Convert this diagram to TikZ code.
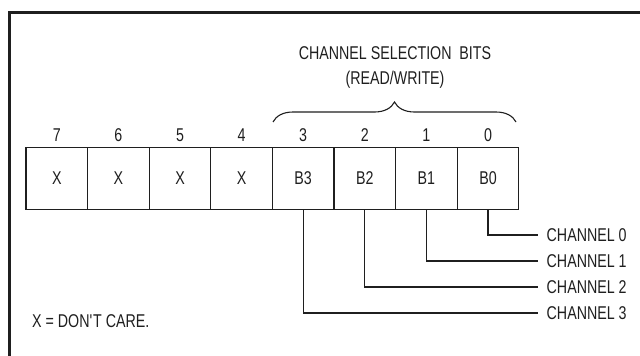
\documentclass[tikz,border=0pt]{standalone}
\usepackage{fontspec}
\setmainfont{Liberation Sans}[FakeStretch=0.77]
\usetikzlibrary{decorations.pathreplacing}

\tikzset{
  bitcell/.style={draw, line width=1.1pt, minimum width=61.6pt, minimum height=62pt, inner sep=0pt},
  tap/.style={line width=1.1pt},
  chlabel/.style={anchor=west, inner sep=0pt}
}

\begin{document}
\begin{tikzpicture}[x=1pt, y=-1pt, font=\fontsize{18.5}{22}\selectfont, color=black!88]
  \clip (0,0) rectangle (640,356);
  \fill[white] (0,0) rectangle (640,356);
  \draw[line width=2.6pt] (9.5,370) -- (9.5,12.5) -- (650,12.5);
  % register cells, bit 7 on the left
  \foreach \i in {7,6,5,4} {
    \node[bitcell] (c\i) at ({26+(7.5-\i)*61.6},178.3) {X};
    \node[above=5pt, inner sep=0pt] (n\i) at (c\i.north) {\i};
  }
  \foreach \i in {3,2,1,0} {
    \node[bitcell] (c\i) at ({26+(7.5-\i)*61.6},178.3) {B\i};
    \node[above=5pt, inner sep=0pt] (n\i) at (c\i.north) {\i};
  }
  % brace over the channel bits
  \coordinate (bl) at (273,122); \coordinate (br) at (516,122);
  \draw[decorate, decoration={brace, amplitude=20pt}, line width=1.1pt] (bl) -- (br);
  \node[align=center, font=\fontsize{18.5}{25}\selectfont] (title) at (395,67) {CHANNEL SELECTION\ \ BITS\\(READ/WRITE)};
  % channel taps
  \foreach \i/\y in {0/235,1/261,2/287,3/313} {
    \node[chlabel] (ch\i) at (546.5,\y) {CHANNEL \i};
    \draw[tap] (c\i.south) |- ([xshift=-8.5pt]ch\i.west);
  }
  \node[anchor=west, inner sep=0pt] (note) at (32,321) {X = DON\textquotesingle T CARE.};
\end{tikzpicture}
\end{document}
